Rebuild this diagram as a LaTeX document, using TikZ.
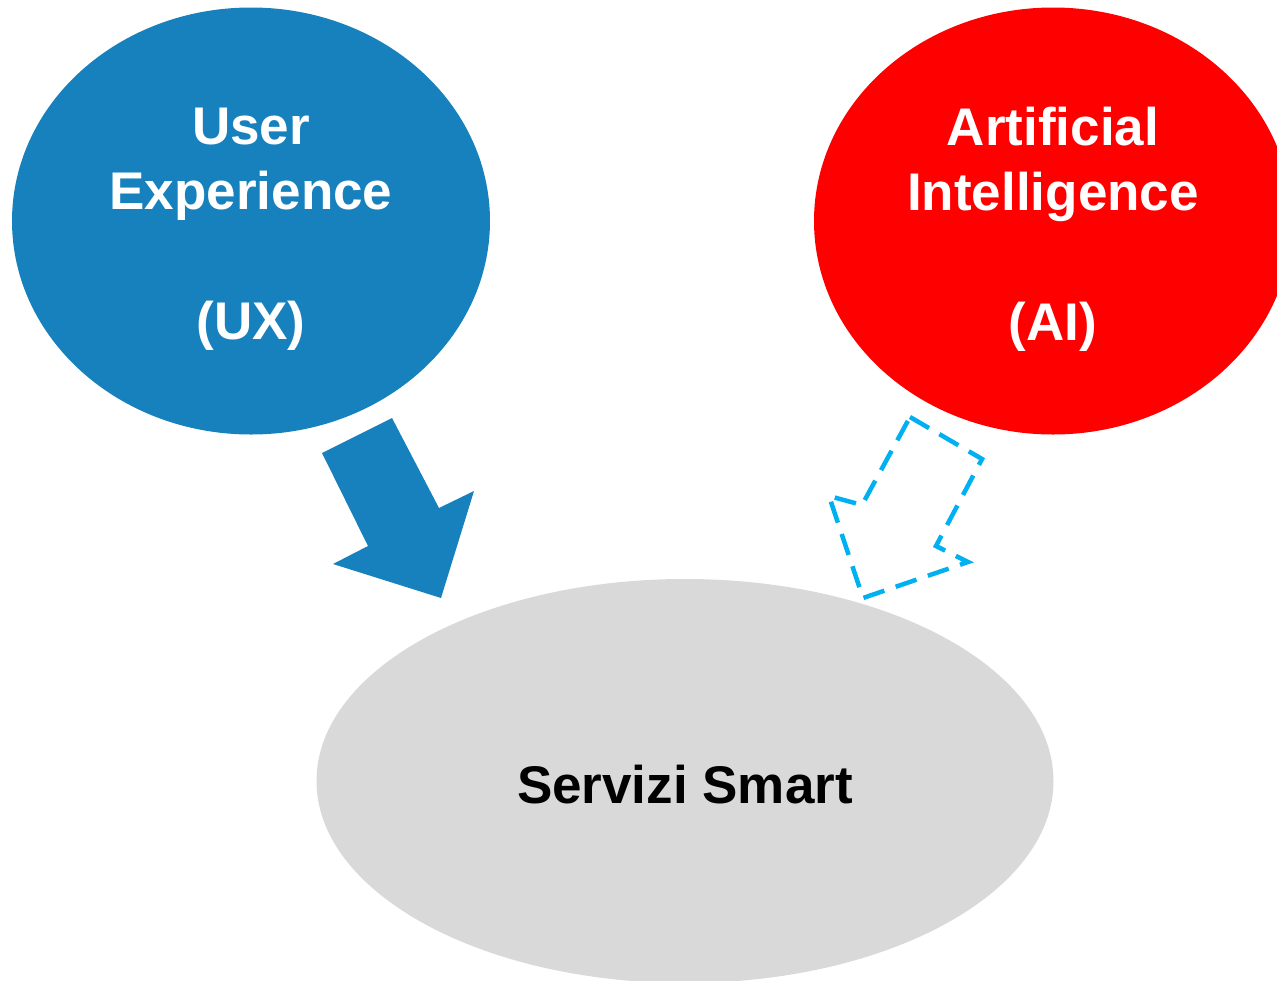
\documentclass[tikz,border=0pt]{standalone}
\usepackage{fontspec}
\setmainfont{Liberation Sans}
\usetikzlibrary{shapes.geometric}
\definecolor{uxblue}{RGB}{23,129,189}
\definecolor{aired}{RGB}{255,0,0}
\definecolor{smartgray}{RGB}{217,217,217}
\definecolor{dashcyan}{RGB}{0,176,240}

\begin{document}
\begin{tikzpicture}[x=1pt, y=-1pt, blob/.style={ellipse, draw=none, inner sep=0pt, minimum width=478pt, minimum height=427pt}]
    \tikzset{bigtext/.style={align=center, font=\fontsize{53}{65}\selectfont\bfseries}}
    \tikzset{dashedarrow/.style={draw=dashcyan, line width=4.5pt, dash pattern=on 22pt off 12pt}}
    \useasboundingbox (0,0) rectangle (1277,980);
    \clip (0,0) rectangle (1277,980);

    \node[blob, fill=uxblue] (ux) at (251,221) {};
    \node[blob, fill=aired] (ai) at (1053,221) {};
    \node[blob, fill=smartgray, minimum width=737pt, minimum height=404pt] (smart) at (685,781) {};

    \node[bigtext, text=white] (uxtext) at ([yshift=-8pt]ux.center) {User\\Experience\\~\\(UX)};
    \node[bigtext, text=white] (aitext) at ([yshift=-8pt]ai.center) {Artificial\\Intelligence\\~\\(AI)};
    \node[bigtext, text=black] (smarttext) at ([yshift=-4pt]smart.center) {Servizi Smart};

    % block arrow from UX down to the services
    \fill[uxblue] (322,453) -- (392,418) -- (439,508) -- (474,491) -- (441,598) -- (333,564) -- (368,546) -- cycle;
    % dashed outline arrow from AI
    \draw[dashedarrow] (910,417) -- (982,459) -- (936,546) -- (968,562) -- (863,598) -- (829,496) -- (862,505) -- cycle;
\end{tikzpicture}
\end{document}
